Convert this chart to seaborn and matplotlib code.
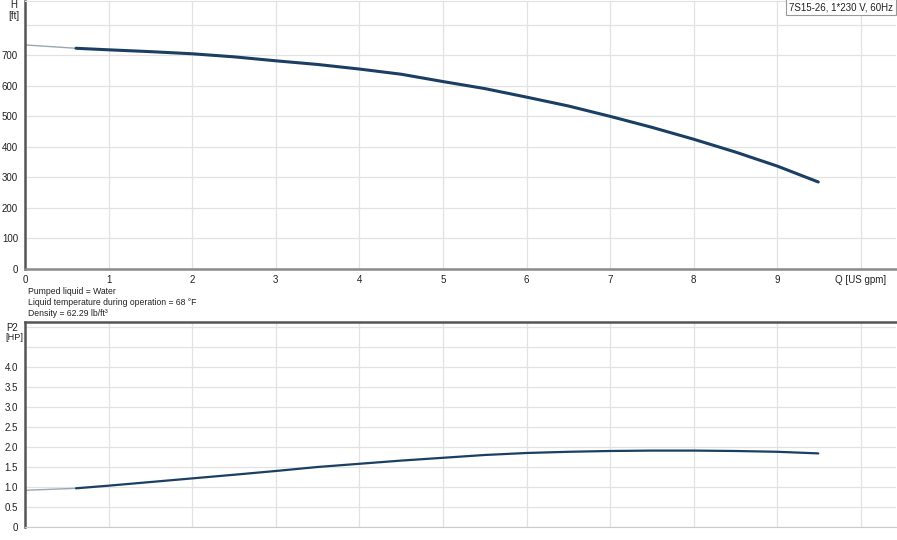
import matplotlib
matplotlib.use("Agg")
import matplotlib.pyplot as plt
import seaborn as sns
import pandas as pd

# values
q_flow = [0, 0.61, 1, 1.5, 2, 2.5, 3, 3.5, 4, 4.5, 5, 5.5, 6, 6.5, 7, 7.5,
          8, 8.5, 9, 9.49]
head_ft = [734, 723, 718, 712, 705, 695, 682, 670, 655, 638, 614, 591, 563,
           534, 500, 464, 425, 383, 337, 285]
power_hp = [0.917, 0.967, 1.033, 1.124, 1.215, 1.306, 1.40, 1.50, 1.58, 1.66,
            1.73, 1.80, 1.85, 1.88, 1.90, 1.91, 1.91, 1.90, 1.88, 1.84]

h_ticks = [0, 100, 200, 300, 400, 500, 600, 700, 800]
h_labels = ["0", "100", "200", "300", "400", "500", "600", "700", ""]
p_ticks = [0, 0.5, 1.0, 1.5, 2.0, 2.5, 3.0, 3.5, 4.0, 4.5, 5.0]
p_labels = ["0", "0.5", "1.0", "1.5", "2.0", "2.5", "3.0", "3.5", "4.0", "", "P2"]
q_ticks = [0, 1, 2, 3, 4, 5, 6, 7, 8, 9, 10]
q_labels = ["0", "1", "2", "3", "4", "5", "6", "7", "8", "9", "Q [US gpm]"]

info_lines = ["Pumped liquid = Water",
              "Liquid temperature during operation = 68 °F",
              "Density = 62.29 lb/ft³"]
pump_name = "7S15-26, 1*230 V, 60Hz"

sns.set_style("white")
plt.rcParams["font.family"] = ["Liberation Sans", "DejaVu Sans"]
plt.rcParams["font.size"] = 7

navy = "#1b3f63"
thin = "#9aa6b4"
grid = "#e2e2e2"
dark = "#555555"
txt = "#222222"

df = pd.DataFrame({"Q": q_flow, "H": head_ft, "P2": power_hp})
early = df.iloc[:2]
main = df.iloc[1:]

fig = plt.figure(figsize=(8.97, 5.4), dpi=100)
ax1 = fig.add_axes([0.0279, 0.5019, 0.971, 0.4963])
ax2 = fig.add_axes([0.0279, 0.0241, 0.971, 0.3796])

# head curve
sns.lineplot(data=early, x="Q", y="H", ax=ax1, color=thin, lw=1.0,
             sort=False, estimator=None)
sns.lineplot(data=main, x="Q", y="H", ax=ax1, color=navy, lw=2.2,
             sort=False, estimator=None)
# power curve
sns.lineplot(data=early, x="Q", y="P2", ax=ax2, color=thin, lw=1.0,
             sort=False, estimator=None)
sns.lineplot(data=main, x="Q", y="P2", ax=ax2, color=navy, lw=1.6,
             sort=False, estimator=None)

for ax in (ax1, ax2):
    ax.set_xlim(0, 10.42)
    ax.set_xticks(q_ticks)
    ax.grid(True, color=grid, lw=0.9)
    ax.set_axisbelow(True)
    ax.set_xlabel("")
    ax.set_ylabel("")
    ax.spines["right"].set_visible(False)
    ax.spines["left"].set_color(dark)
    ax.spines["left"].set_linewidth(1.8)
    ax.tick_params(axis="y", length=3, width=1, color=dark, pad=2,
                   labelcolor=txt, labelsize=7)

ax1.set_ylim(0, 878)
ax1.set_yticks(h_ticks)
ax1.set_yticklabels(h_labels)
ax1.set_xticklabels(q_labels)
ax1.tick_params(axis="x", length=4, width=1, color=dark, direction="inout",
                pad=2, labelcolor=txt, labelsize=7)
ax1.spines["bottom"].set_color("#8a8a8a")
ax1.spines["bottom"].set_linewidth(1.8)
ax1.spines["top"].set_color(grid)
ax1.text(0.997, 0.995, pump_name, transform=ax1.transAxes, ha="right",
         va="top", fontsize=7, color=txt,
         bbox=dict(boxstyle="square,pad=0.3", fc="white", ec="#999999",
                   lw=0.8))

ax2.set_ylim(0, 5.125)
ax2.set_yticks(p_ticks)
ax2.set_yticklabels(p_labels)
ax2.set_xticklabels([])
ax2.tick_params(axis="x", length=0)
ax2.spines["top"].set_color(dark)
ax2.spines["top"].set_linewidth(1.8)
ax2.spines["bottom"].set_color("#cccccc")

# axis unit labels in the left margin
fig.text(14 / 897, 1 - 5 / 540, "H", ha="center", va="center", fontsize=7,
         color=txt)
fig.text(14 / 897, 1 - 16 / 540, "[ft]", ha="center", va="center",
         fontsize=7, color=txt)
fig.text(14 / 897, 1 - 338 / 540, "[HP]", ha="center", va="center",
         fontsize=6.6, color=txt)

for i, line in enumerate(info_lines):
    fig.text(0.031, 0.461 - i * 0.0205, line, ha="left", va="center",
             fontsize=6.2, color=txt)

fig.savefig("out.png", dpi=100)
